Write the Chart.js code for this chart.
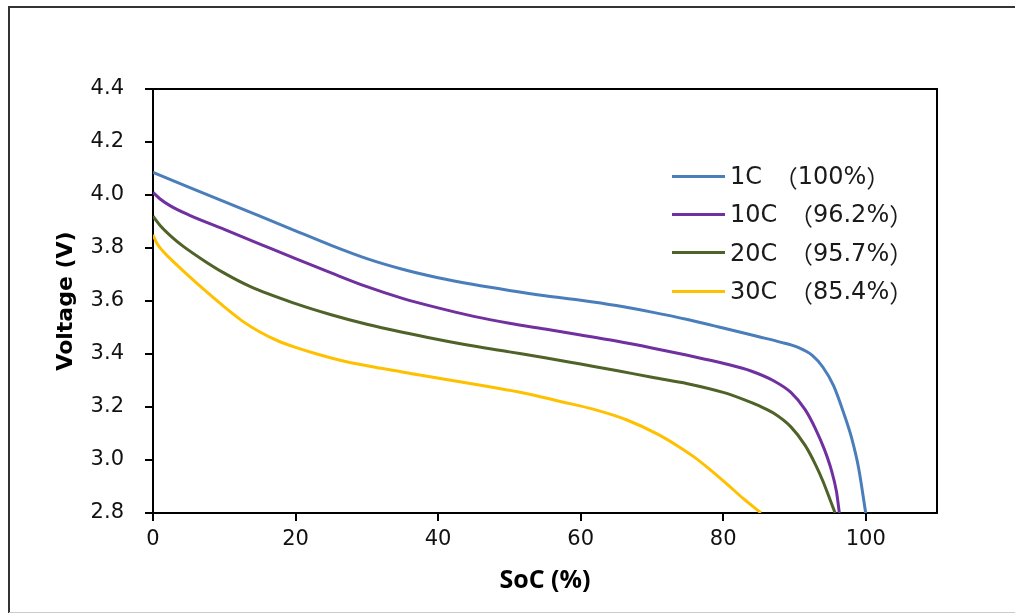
<!DOCTYPE html>
<html>
<head>
<meta charset="utf-8">
<title>SoC vs Voltage</title>
<script src="https://cdn.jsdelivr.net/npm/chart.js@4.4.1/dist/chart.umd.min.js"></script>
<style>
  html, body { margin: 0; padding: 0; background: #fff; }
  #wrap { position: relative; width: 1015px; height: 614px; }
  #legend { position: absolute; left: 672px; top: 157px; font: 24px "DejaVu Sans", sans-serif; color: #1a1a1a; }
  .row { display: flex; align-items: center; height: 38.3px; white-space: pre; }
  .swatch { width: 53px; height: 3px; margin-right: 5px; }
  .cjk { font-family: "Noto Sans CJK SC", sans-serif; }
  .open { margin-left: 4px; }
</style>
</head>
<body>
<div id="wrap">
  <canvas id="chart" width="1015" height="614"></canvas>
  <div id="legend"></div>
</div>
<script>
// discharge rates and the capacity retained at each rate
const rates = ['1C', '10C', '20C', '30C'];
const retention = ['100%', '96.2%', '95.7%', '85.4%'];
const colors = ['#4A7EBB', '#7030A0', '#4F6228', '#FFC000'];

// SoC (%) / voltage (V) samples for each curve
const soc1C = [0, 5, 10, 15, 20, 25, 30, 35, 40, 45, 50, 55, 60, 65, 70, 75, 80, 85, 88, 90.5, 92.5, 94, 95.5, 97, 98, 99, 100];
const volt1C = [4.085, 4.03, 3.975, 3.92, 3.865, 3.81, 3.76, 3.72, 3.688, 3.662, 3.64, 3.62, 3.603, 3.583, 3.558, 3.53, 3.498, 3.465, 3.445, 3.425, 3.395, 3.35, 3.28, 3.17, 3.085, 2.97, 2.8];

const soc10C = [0, 1, 2.5, 5, 10, 15, 20, 25, 30, 35, 40, 45, 50, 55, 60, 65, 70, 75, 80, 84, 87, 89.5, 91.5, 93, 94.2, 95.2, 95.9, 96.3];
const volt10C = [4.01, 3.985, 3.958, 3.925, 3.87, 3.815, 3.76, 3.706, 3.654, 3.61, 3.574, 3.542, 3.516, 3.494, 3.472, 3.449, 3.423, 3.395, 3.365, 3.335, 3.30, 3.255, 3.19, 3.115, 3.04, 2.96, 2.88, 2.8];

const soc20C = [0, 1, 2.5, 4.3, 7, 10, 13.6, 20, 25, 30, 35, 40, 45, 50, 55, 60, 65, 70, 75, 80, 83, 85, 87, 89.5, 91.5, 93, 94, 95, 95.7];
const volt20C = [3.92, 3.885, 3.845, 3.805, 3.755, 3.705, 3.655, 3.59, 3.548, 3.512, 3.482, 3.455, 3.43, 3.408, 3.386, 3.362, 3.338, 3.312, 3.288, 3.255, 3.227, 3.205, 3.178, 3.125, 3.055, 2.98, 2.92, 2.85, 2.8];

const soc30C = [0, 0.5, 1.5, 3, 5, 7.5, 10, 12.5, 15, 17.5, 20, 23, 27, 32, 37, 42, 47, 52, 57, 62, 66.5, 71, 73.5, 76, 78.2, 80.5, 82.8, 85.3];
const volt30C = [3.85, 3.82, 3.785, 3.745, 3.695, 3.635, 3.578, 3.525, 3.483, 3.45, 3.425, 3.40, 3.372, 3.346, 3.323, 3.30, 3.277, 3.253, 3.222, 3.19, 3.151, 3.095, 3.055, 3.01, 2.963, 2.91, 2.855, 2.8];

const xTicks = [0, 20, 40, 60, 80, 100];
const yTicks = [2.8, 3.0, 3.2, 3.4, 3.6, 3.8, 4.0, 4.2, 4.4];

const series = [[soc1C, volt1C], [soc10C, volt10C], [soc20C, volt20C], [soc30C, volt30C]];

const datasets = series.map(([xs, ys], i) => ({
  label: rates[i] + ' （' + retention[i] + '）',
  data: xs.map((x, k) => ({ x: x, y: ys[k] })),
  borderColor: colors[i],
  backgroundColor: colors[i],
  borderWidth: 3,
  pointRadius: 0,
  cubicInterpolationMode: 'monotone',
  fill: false
}));

const tickFont = { family: 'DejaVu Sans', size: 21 };

// white page with the thin picture border
const pageFrame = {
  id: 'pageFrame',
  beforeDraw(chart) {
    const ctx = chart.ctx;
    ctx.save();
    ctx.fillStyle = '#fff';
    ctx.fillRect(0, 0, chart.width, chart.height);
    ctx.strokeStyle = '#333';
    ctx.lineWidth = 2;
    ctx.beginPath();
    ctx.moveTo(9, 613);
    ctx.lineTo(9, 7);
    ctx.lineTo(1015, 7);
    ctx.stroke();
    ctx.strokeStyle = '#ccc';
    ctx.lineWidth = 1;
    ctx.beginPath();
    ctx.moveTo(9, 612.5);
    ctx.lineTo(1015, 612.5);
    ctx.stroke();
    ctx.restore();
  }
};

// closes the plot box on top and right
const plotBox = {
  id: 'plotBox',
  afterDraw(chart) {
    const { left, top, right, bottom } = chart.chartArea;
    const ctx = chart.ctx;
    ctx.save();
    ctx.strokeStyle = '#000';
    ctx.lineWidth = 2;
    ctx.beginPath();
    ctx.moveTo(left, top);
    ctx.lineTo(right, top);
    ctx.lineTo(right, bottom);
    ctx.stroke();
    ctx.restore();
  }
};

new Chart(document.getElementById('chart'), {
  type: 'line',
  data: { datasets: datasets },
  plugins: [pageFrame, plotBox],
  options: {
    responsive: false,
    animation: false,
    devicePixelRatio: 1,
    layout: { padding: { top: 89, right: 78, left: 0, bottom: 0 } },
    plugins: { legend: { display: false }, tooltip: { enabled: false } },
    scales: {
      x: {
        type: 'linear',
        min: 0,
        max: 110,
        afterBuildTicks: s => { s.ticks = xTicks.map(v => ({ value: v })); },
        afterFit: s => { s.height = 101; },
        ticks: { font: tickFont, color: '#111', padding: 6, maxRotation: 0 },
        grid: { drawOnChartArea: false, drawTicks: true, tickLength: 8, color: '#000', lineWidth: 2 },
        border: { color: '#000', width: 2 },
        title: {
          display: true,
          text: 'SoC (%)',
          color: '#000',
          font: { family: 'Open Sans', weight: 'bold', size: 25 },
          padding: { top: 0, bottom: 18 }
        }
      },
      y: {
        min: 2.8,
        max: 4.4,
        afterBuildTicks: s => { s.ticks = yTicks.map(v => ({ value: v })); },
        afterFit: s => { s.width = 153; },
        ticks: { font: tickFont, color: '#111', padding: 21, callback: v => v.toFixed(1) },
        grid: { drawOnChartArea: false, drawTicks: true, tickLength: 8, color: '#000', lineWidth: 2 },
        border: { color: '#000', width: 2 },
        title: {
          display: true,
          text: 'Voltage (V)',
          color: '#000',
          font: { family: 'DejaVu Sans', weight: 'bold', size: 22 },
          padding: { top: 53, bottom: 0 }
        }
      }
    }
  }
});

// legend built from the datasets; full-width brackets come from the CJK font
const legend = document.getElementById('legend');
datasets.forEach((ds, i) => {
  const row = document.createElement('div');
  row.className = 'row';
  const sw = document.createElement('span');
  sw.className = 'swatch';
  sw.style.background = ds.borderColor;
  const name = document.createElement('span');
  name.textContent = rates[i] + ' ';
  const open = document.createElement('span');
  open.className = 'cjk open';
  open.textContent = '（';
  const pct = document.createElement('span');
  pct.textContent = retention[i];
  const close = document.createElement('span');
  close.className = 'cjk';
  close.textContent = '）';
  [sw, name, open, pct, close].forEach(el => row.appendChild(el));
  legend.appendChild(row);
});
</script>
</body>
</html>
